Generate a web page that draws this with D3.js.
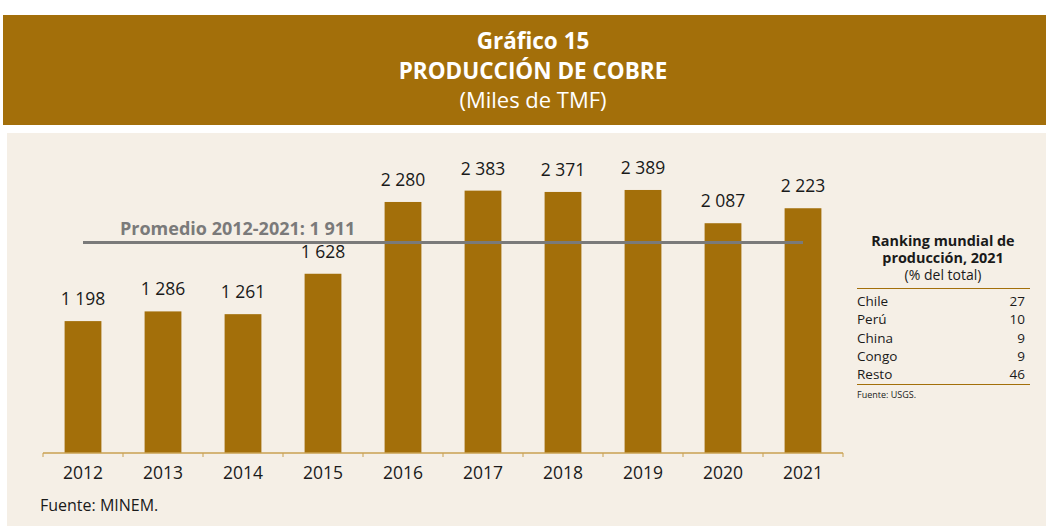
<!DOCTYPE html>
<html lang="es">
<head>
<meta charset="utf-8">
<title>Producción de cobre</title>
<script src="https://cdn.jsdelivr.net/npm/d3@7"></script>
<style>
  body { margin: 0; background: #fff; }
  svg { display: block; font-family: "Open Sans", "Noto Sans", sans-serif; }
</style>
</head>
<body>
<div id="chart"></div>
<script>
  // data
  const years = ["2012", "2013", "2014", "2015", "2016", "2017", "2018", "2019", "2020", "2021"];
  const production = [1198, 1286, 1261, 1628, 2280, 2383, 2371, 2389, 2087, 2223];
  const average = 1911;
  const rankCountries = ["Chile", "Perú", "China", "Congo", "Resto"];
  const rankShares = [27, 10, 9, 9, 46];

  const W = 1046, H = 526;
  const gold = "#a36f0a";
  const fmt = v => d3.format(",")(v).replace(/,/g, " ");

  const svg = d3.select("#chart").append("svg")
    .attr("width", W).attr("height", H);

  // header band
  svg.append("rect").attr("x", 3).attr("y", 15).attr("width", W - 3).attr("height", 110)
    .attr("fill", gold);
  const head = svg.append("g").attr("fill", "#fff").attr("text-anchor", "middle");
  head.append("text").attr("x", 533).attr("y", 49).attr("font-size", 22.5).attr("font-weight", 700)
    .text("Gráfico 15");
  head.append("text").attr("x", 533).attr("y", 79).attr("font-size", 22.5).attr("font-weight", 700)
    .text("PRODUCCIÓN DE COBRE");
  head.append("text").attr("x", 533).attr("y", 108).attr("font-size", 22)
    .text("(Miles de TMF)");

  // panel
  svg.append("rect").attr("x", 7).attr("y", 133).attr("width", W - 7).attr("height", H - 133)
    .attr("fill", "#f5efe6");

  // scales
  const x = d3.scaleBand().domain(years).range([43, 843]).paddingInner(0.54).paddingOuter(0.27);
  const y = d3.scaleLinear().domain([0, 2400]).range([453, 453 - 2400 * 0.1101]);

  svg.selectAll(".bar").data(production).enter().append("rect")
    .attr("class", "bar")
    .attr("x", (d, i) => x(years[i]))
    .attr("y", d => y(d))
    .attr("width", x.bandwidth())
    .attr("height", d => y(0) - y(d))
    .attr("fill", gold);

  svg.selectAll(".val").data(production).enter().append("text")
    .attr("class", "val")
    .attr("x", (d, i) => x(years[i]) + x.bandwidth() / 2)
    .attr("y", d => y(d) - 16)
    .attr("text-anchor", "middle")
    .attr("font-size", 17.5)
    .attr("fill", "#1a1a1a")
    .text(fmt);

  // x axis
  const axisScale = d3.scalePoint().domain(d3.range(years.length + 1)).range([43, 843]);
  const ax = svg.append("g").attr("transform", "translate(0,453)");
  ax.append("line").attr("x1", 43).attr("x2", 843).attr("stroke", "#c9a050").attr("stroke-width", 1.5);
  ax.selectAll(".tick").data(axisScale.domain()).enter().append("line")
    .attr("x1", d => axisScale(d)).attr("x2", d => axisScale(d))
    .attr("y1", 0).attr("y2", 4)
    .attr("stroke", "#c9a050").attr("stroke-width", 1);
  ax.selectAll(".lab").data(years).enter().append("text")
    .attr("x", d => x(d) + x.bandwidth() / 2)
    .attr("y", 26)
    .attr("text-anchor", "middle")
    .attr("font-size", 17.5)
    .attr("fill", "#1a1a1a")
    .text(d => d);

  // average line
  const cx0 = x(years[0]) + x.bandwidth() / 2, cx1 = x(years[years.length - 1]) + x.bandwidth() / 2;
  svg.append("line").attr("x1", cx0).attr("x2", cx1)
    .attr("y1", y(average)).attr("y2", y(average))
    .attr("stroke", "#7a7a7a").attr("stroke-width", 3);
  svg.append("text").attr("x", 120).attr("y", y(average) - 8)
    .attr("font-size", 18).attr("font-weight", 700).attr("fill", "#7a7a7a")
    .text("Promedio 2012-2021: " + fmt(average));

  // source
  svg.append("text").attr("x", 40).attr("y", 511).attr("font-size", 16).attr("fill", "#1a1a1a")
    .text("Fuente: MINEM.");

  // ranking table
  const tb = svg.append("g");
  tb.append("text").attr("x", 943).attr("y", 246).attr("text-anchor", "middle")
    .attr("font-size", 14.4).attr("font-weight", 700).attr("fill", "#1a1a1a").text("Ranking mundial de");
  tb.append("text").attr("x", 943).attr("y", 263).attr("text-anchor", "middle")
    .attr("font-size", 14.4).attr("font-weight", 700).attr("fill", "#1a1a1a").text("producción, 2021");
  tb.append("text").attr("x", 943).attr("y", 280).attr("text-anchor", "middle")
    .attr("font-size", 14).attr("fill", "#1a1a1a").text("(% del total)");
  tb.append("line").attr("x1", 857).attr("x2", 1030).attr("y1", 288.5).attr("y2", 288.5)
    .attr("stroke", gold).attr("stroke-width", 1);
  const ry = d3.scalePoint().domain(d3.range(rankCountries.length)).range([306, 379]);
  tb.selectAll(".rc").data(rankCountries).enter().append("text")
    .attr("x", 857).attr("y", (d, i) => ry(i))
    .attr("font-size", 13.5).attr("fill", "#1a1a1a").text(d => d);
  tb.selectAll(".rv").data(rankShares).enter().append("text")
    .attr("x", 1025).attr("y", (d, i) => ry(i)).attr("text-anchor", "end")
    .attr("font-size", 13.5).attr("fill", "#1a1a1a").text(d => d);
  tb.append("line").attr("x1", 857).attr("x2", 1030).attr("y1", 384.5).attr("y2", 384.5)
    .attr("stroke", gold).attr("stroke-width", 1);
  tb.append("text").attr("x", 857).attr("y", 398).attr("font-size", 9).attr("fill", "#1a1a1a")
    .text("Fuente: USGS.");
</script>
</body>
</html>
